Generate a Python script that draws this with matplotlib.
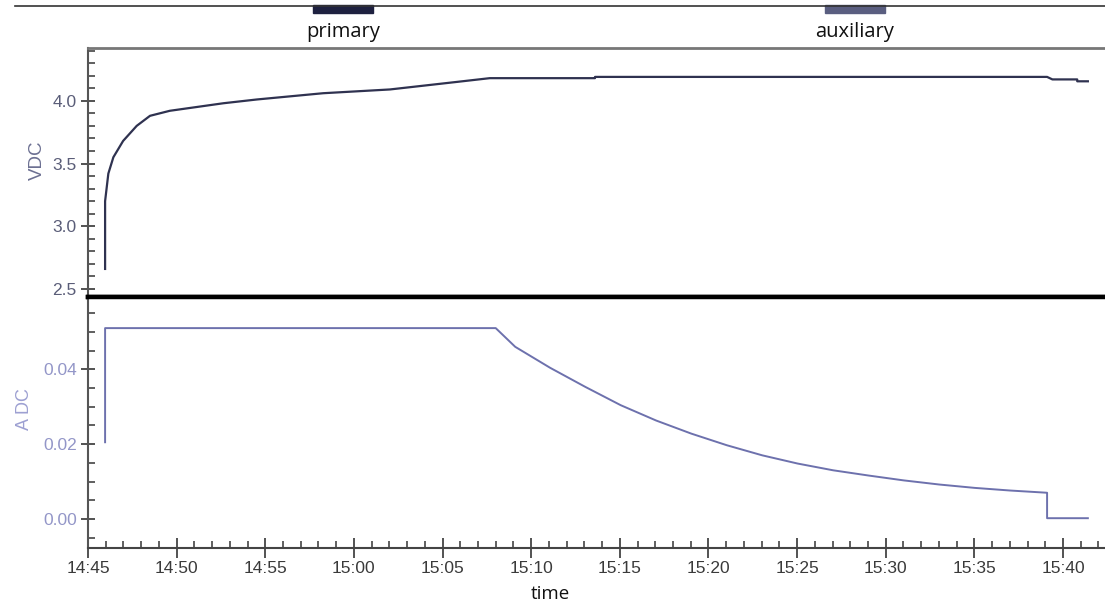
import matplotlib
matplotlib.use("Agg")
import matplotlib.pyplot as plt
import matplotlib.dates as mdates
from matplotlib.patches import Rectangle
from matplotlib.lines import Line2D
from matplotlib.ticker import FormatStrFormatter
import pandas as pd

plt.rcParams["font.family"] = ["Liberation Sans", "DejaVu Sans"]
plt.rcParams["font.size"] = 12

# primary: voltage (V DC)
volt_time = ["14:45:58", "14:45:58", "14:46:09", "14:46:26", "14:46:59", "14:47:45",
             "14:48:30", "14:49:37", "14:52:38", "14:54:31", "14:58:16", "15:02:02",
             "15:03:55", "15:05:48", "15:07:40", "15:13:36", "15:13:36", "15:39:06",
             "15:39:24", "15:40:48", "15:40:48", "15:41:24"]
volt_vals = [2.66, 3.20, 3.42, 3.55, 3.68, 3.80,
             3.88, 3.92, 3.98, 4.01, 4.06, 4.09,
             4.12, 4.15, 4.18, 4.18, 4.19, 4.19,
             4.17, 4.17, 4.155, 4.155]

# auxiliary: current (A DC)
amp_time = ["14:45:58", "14:45:58", "15:08:00", "15:09:06", "15:11:04", "15:13:03",
            "15:15:03", "15:17:03", "15:19:02", "15:21:02", "15:23:02", "15:25:02",
            "15:27:02", "15:29:02", "15:31:01", "15:33:01", "15:35:01", "15:37:00",
            "15:39:06", "15:39:06", "15:41:24"]
amp_vals = [0.0205, 0.051, 0.051, 0.046, 0.0404, 0.0353,
            0.0304, 0.0263, 0.0228, 0.0197, 0.0170, 0.0148,
            0.0130, 0.0116, 0.0103, 0.0092, 0.0083, 0.0076,
            0.0070, 0.0002, 0.0002]

series_names = ["primary", "auxiliary"]
series_colors = ["#2f3250", "#6d71ad"]
legend_colors = ["#1e2140", "#5a5e80"]


def to_dt(times):
    return pd.to_datetime(["2000-01-01 " + t for t in times])


fig = plt.figure(figsize=(11.05, 6.05), dpi=100)
ax_v = fig.add_axes([0.0796, 0.509, 0.9204, 0.4116])
ax_a = fig.add_axes([0.0796, 0.094, 0.9204, 0.415], sharex=ax_v)

ax_v.plot(to_dt(volt_time), volt_vals, color=series_colors[0], lw=1.6)
ax_a.plot(to_dt(amp_time), amp_vals, color=series_colors[1], lw=1.4)

xmin = pd.Timestamp("2000-01-01 14:45:00")
xmax = pd.Timestamp("2000-01-01 15:42:22")
ax_a.set_xlim(xmin, xmax)
ax_v.set_ylim(2.436, 4.42)
ax_a.set_ylim(-0.0078, 0.0593)

ax_a.xaxis.set_major_locator(mdates.MinuteLocator(byminute=range(0, 60, 5)))
ax_a.xaxis.set_minor_locator(mdates.MinuteLocator())
ax_a.xaxis.set_major_formatter(mdates.DateFormatter("%H:%M"))

ax_v.set_yticks([2.5, 3.0, 3.5, 4.0])
ax_v.set_yticks([2.5 + 0.1 * i for i in range(20)], minor=True)
ax_a.set_yticks([0.0, 0.02, 0.04])
ax_a.set_yticks([-0.005 + 0.005 * i for i in range(13)], minor=True)
ax_v.yaxis.set_major_formatter(FormatStrFormatter("%.1f"))
ax_a.yaxis.set_major_formatter(FormatStrFormatter("%.2f"))

for ax in (ax_v, ax_a):
    ax.spines["right"].set_visible(False)
    ax.spines["left"].set_color("#555555")
    ax.spines["left"].set_linewidth(1.5)
    ax.tick_params(axis="y", which="major", direction="inout", length=10, width=1.3,
                   color="#444444", pad=3, labelsize=12.5)
    ax.tick_params(axis="y", which="minor", direction="in", length=5, width=1.2,
                   color="#444444")

ax_v.tick_params(axis="x", which="both", bottom=False, labelbottom=False)
ax_v.spines["top"].set_color("#777777")
ax_v.spines["top"].set_linewidth(2)
ax_v.spines["bottom"].set_color("black")
ax_v.spines["bottom"].set_linewidth(3.2)
ax_a.spines["top"].set_color("black")
ax_a.spines["top"].set_linewidth(3.2)
ax_a.spines["bottom"].set_color("#444444")
ax_a.spines["bottom"].set_linewidth(1.5)

ax_a.tick_params(axis="x", which="major", direction="inout", length=14, width=1.3,
                 color="#444444", labelcolor="#3a3a3a", pad=2, labelsize=12.5)
ax_a.tick_params(axis="x", which="minor", direction="in", length=5, width=1.2,
                 color="#444444")

ax_v.tick_params(axis="y", labelcolor="#5a5d78")
ax_a.tick_params(axis="y", labelcolor="#9396c8")

ax_v.set_ylabel("VDC", fontsize=13.5, color="#6c7092")
ax_a.set_ylabel("A DC", fontsize=13, color="#9da0d2")
ax_v.yaxis.set_label_coords(-0.041, 0.55)
ax_a.yaxis.set_label_coords(-0.054, 0.554)
ax_a.set_xlabel("time", family="Open Sans", fontsize=13.5, color="#111111")
ax_a.xaxis.set_label_coords(0.455, -0.145)

# legend strip at the top
fig.add_artist(Line2D([15 / 1105, 1.0], [1 - 6 / 605, 1 - 6 / 605],
                      color="#333333", lw=1.2, transform=fig.transFigure))
for name, col, cx in zip(series_names, legend_colors, [343 / 1105, 855 / 1105]):
    fig.add_artist(Rectangle((cx - 30 / 1105, 1 - 13 / 605), 60 / 1105, 8 / 605,
                             transform=fig.transFigure, color=col))
    fig.text(cx, 1 - 32 / 605, name, ha="center", va="center",
             family="Open Sans", fontsize=14.5, color="#111111")

fig.savefig("out.png", dpi=100)
